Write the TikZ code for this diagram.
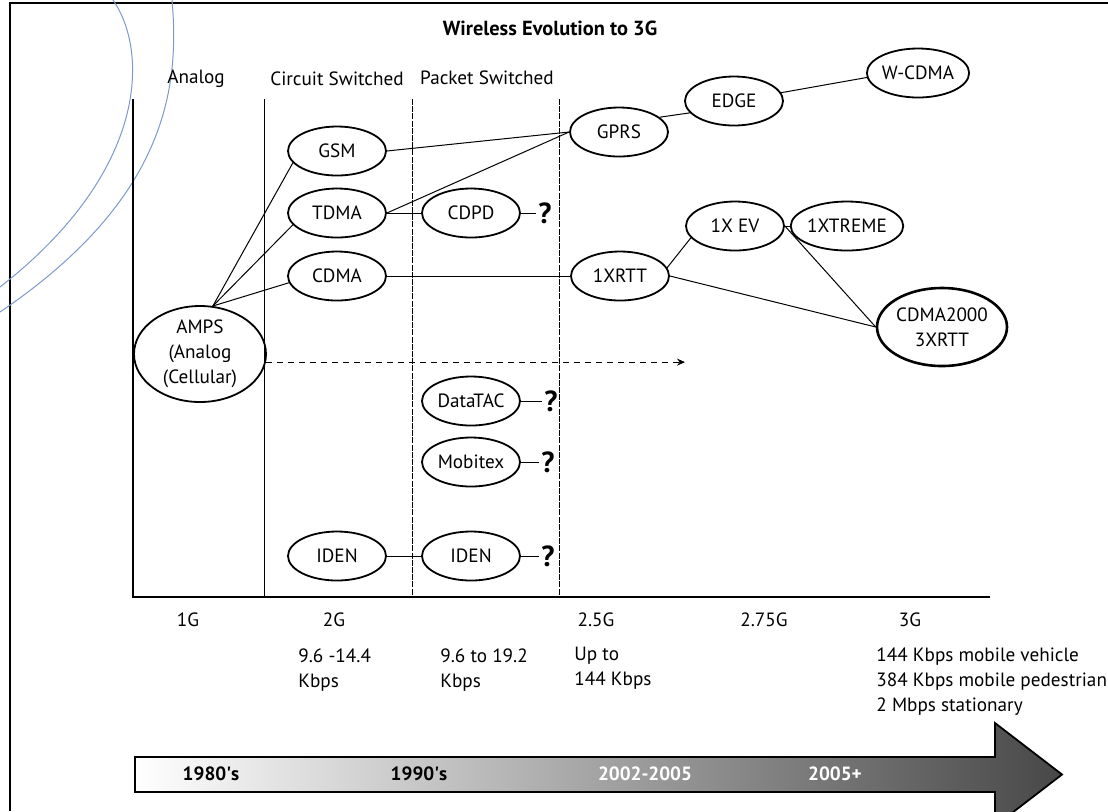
\documentclass[tikz,border=0pt]{standalone}
\usepackage{fontspec}
\setmainfont{PT Sans}
\usetikzlibrary{arrows.meta, shapes.geometric}

\definecolor{arcblue}{RGB}{125,152,204}

\begin{document}
\begin{tikzpicture}[
    x=0.5pt, y=-0.5pt,
    font=\fontsize{9.6}{12.5}\selectfont,
    >={Stealth[length=4pt, width=3.5pt]},
    tech/.style={draw, ellipse, line width=0.9pt, minimum width=49pt,
        minimum height=24.5pt, inner sep=0pt, align=center},
    link/.style={line width=0.5pt},
    qmark/.style={font=\fontsize{14.5}{14.5}\bfseries\selectfont, inner sep=1pt},
    era/.style={font=\fontsize{9.6}{12}\bfseries\selectfont},
    speed/.style={anchor=north west, inner sep=0pt, align=left},
    divider/.style={line width=0.5pt, dash pattern=on 3pt off 0.6pt}
]

\useasboundingbox (0,0) rectangle (1108,811);

% --- Frame and background arcs ---
\draw[line width=1.2pt] (1108,3) -- (10,3) -- (10,811);
\draw[arcblue, line width=0.5pt] (113,0) .. controls (148,50) and (150,170) .. (0,287);
\draw[arcblue, line width=0.5pt] (172,0) .. controls (180,90) and (165,200) .. (0,312);

% --- Title and column headings ---
\node[font=\fontsize{10.2}{12}\bfseries\selectfont] (title) at (550,28) {Wireless Evolution to 3G};
\node (analog) at (196,79) {Analog};
\node (circuit) at (337,79) {Circuit Switched};
\node (packet) at (487,78) {Packet Switched};

% --- Chart axes and column dividers ---
\draw[line width=1pt] (133,99) -- (133,597) -- (990,597);
\draw[line width=0.5pt] (264,99) -- (264,597);
\draw[divider] (412,99) -- (412,597);
\draw[divider] (559,99) -- (559,597);

% --- Technologies ---
\node[tech, minimum width=66pt, minimum height=45pt] (amps) at (200,354) {AMPS\\(Analog\\(Cellular)};
\node[tech] (gsm) at (337,151) {GSM};
\node[tech] (tdma) at (337,213) {TDMA};
\node[tech] (cdma) at (337,276) {CDMA};
\node[tech] (iden2g) at (337,556) {IDEN};
\node[tech] (cdpd) at (471,213) {CDPD};
\node[tech] (datatac) at (471,401) {DataTAC};
\node[tech] (mobitex) at (471,462) {Mobitex};
\node[tech] (idenpk) at (471,556) {IDEN};
\node[tech] (gprs) at (619,132) {GPRS};
\node[tech] (edge) at (734,101) {EDGE};
\node[tech] (wcdma) at (918,73) {W-CDMA};
\node[tech] (onexrtt) at (620,276) {1XRTT};
\node[tech] (onexev) at (735,226) {1X EV};
\node[tech] (xtreme) at (847,226) {1XTREME};
\node[tech, line width=1.3pt, minimum width=65pt, minimum height=39pt] (cdmak) at (942,327) {CDMA2000\\3XRTT};

% --- Open ends ---
\node[qmark] (cdpdq) at (545,213) {?};
\node[qmark] (datatacq) at (551,401) {?};
\node[qmark] (mobitexq) at (548,462) {?};
\node[qmark] (idenq) at (548,556) {?};
\coordinate (future) at (685,361);

% --- Links ---
\draw[link] (amps.75) -- (gsm.195);
\draw[link] (amps.75) -- (tdma.195);
\draw[link] (amps.75) -- (cdma.188);
\draw[link] (gsm.east) -- (gprs.west);
\draw[link] (tdma.east) -- (gprs.west);
\draw[link] (tdma.east) -- (cdpd.west);
\draw[link] (cdpd.east) -- (cdpdq);
\draw[link] (cdma.east) -- (onexrtt.west);
\draw[link] (gprs.20) -- (edge.195);
\draw[link] (edge.10) -- (wcdma.185);
\draw[link] (onexrtt.10) -- (onexev.195);
\draw[link] (onexrtt.east) -- (cdmak.west);
\draw[link] (onexev.east) -- (cdmak.west);
\draw[link] (onexev.east) -- (xtreme.west);
\draw[link] (datatac.east) -- (datatacq);
\draw[link] (mobitex.east) -- (mobitexq);
\draw[link] (iden2g.east) -- (idenpk.west);
\draw[link] (idenpk.east) -- (idenq);
\draw[link, dash pattern=on 3pt off 2.5pt, ->] (amps.-7) -- (amps.-7 -| future);

% --- Generations and data rates ---
\node (gen1) at (188,620) {1G};
\node (gen2) at (334,620) {2G};
\node (gen25) at (596,620) {2.5G};
\node (gen275) at (764,620) {2.75G};
\node (gen3) at (910,620) {3G};
\node[speed] (rate2) at (298,648) {9.6 -14.4\\Kbps};
\node[speed] (ratepk) at (440,648) {9.6 to 19.2\\Kbps};
\node[speed] (rate25) at (574,647) {Up to\\144 Kbps};
\node[speed] (rate3) at (876,647) {144 Kbps mobile vehicle\\384 Kbps mobile pedestrian\\2 Mbps stationary};

% --- Time line ---
\begin{scope}
\clip (0,0) rectangle (1108,811);
\draw[line width=0.9pt, left color=white, right color=black!72]
    (135,757) -- (995,757) -- (995,723) -- (1062,774.5) -- (995,826)
    -- (995,792) -- (135,792) -- cycle;
\end{scope}
\node[era] (y80) at (211,774) {1980\textquotesingle s};
\node[era] (y90) at (419,774) {1990\textquotesingle s};
\node[era, white] (y02) at (645,774) {2002-2005};
\node[era, white] (y05) at (835,774) {2005+};

\end{tikzpicture}
\end{document}
